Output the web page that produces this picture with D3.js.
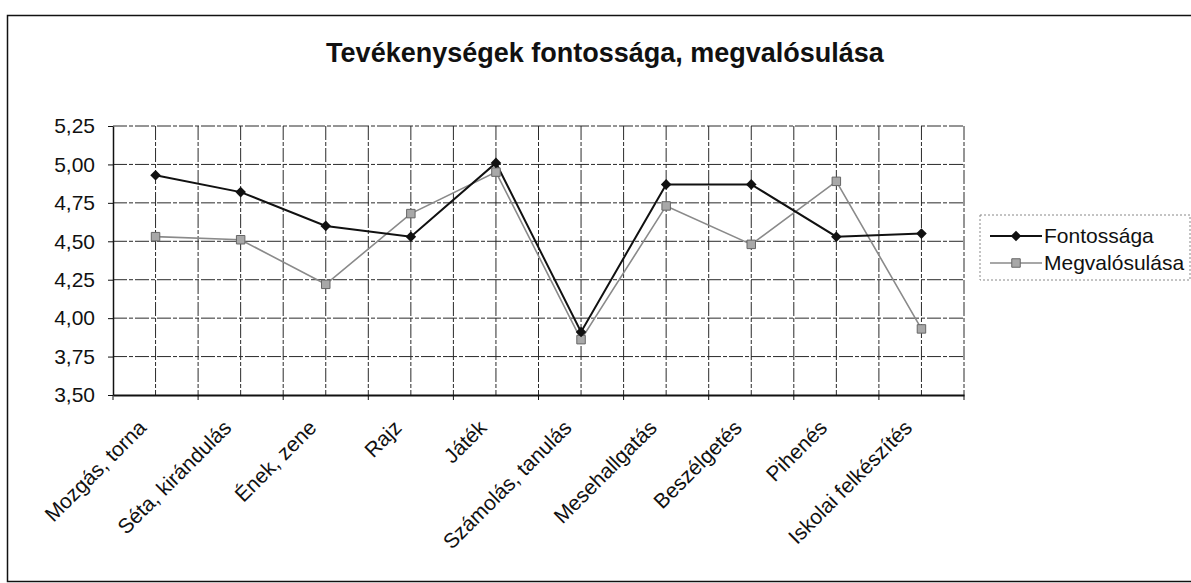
<!DOCTYPE html>
<html>
<head>
<meta charset="utf-8">
<script src="https://cdn.jsdelivr.net/npm/d3@7"></script>
<style>
  body { margin: 0; background: #fff; }
  svg { display: block; font-family: Arial, "Liberation Sans", sans-serif; }
</style>
</head>
<body>
<div class="chart"></div>
<script>
// data
const categories = ["Mozgás, torna", "Séta, kirándulás", "Ének, zene", "Rajz", "Játék",
  "Számolás, tanulás", "Mesehallgatás", "Beszélgetés", "Pihenés", "Iskolai felkészítés"];
const fontossaga = [4.93, 4.82, 4.60, 4.53, 5.01, 3.91, 4.87, 4.87, 4.53, 4.55];
const megvalosulasa = [4.53, 4.51, 4.22, 4.68, 4.95, 3.86, 4.73, 4.48, 4.89, 3.93];
const yTicks = [3.50, 3.75, 4.00, 4.25, 4.50, 4.75, 5.00, 5.25];
const seriesNames = ["Fontossága", "Megvalósulása"];
const title = "Tevékenységek fontossága, megvalósulása";

const W = 1191, H = 583;
const margin = ({top: 126, right: 227, bottom: 188, left: 113});
const width = W - margin.left - margin.right,
    height = H - margin.top - margin.bottom;

const svg = d3.select(".chart").append("svg")
    .attr("width", W)
    .attr("height", H);

// outer frame
svg.append("rect")
    .attr("x", 7.5).attr("y", 15.5)
    .attr("width", W).attr("height", 566)
    .attr("fill", "none")
    .attr("stroke", "#111")
    .attr("stroke-width", 1.5);

svg.append("text")
    .attr("x", 605).attr("y", 62)
    .attr("text-anchor", "middle")
    .attr("font-size", 27)
    .attr("font-weight", "bold")
    .attr("fill", "#111")
    .text(title);

const g = svg.append("g")
    .attr("transform", "translate(" + margin.left + "," + margin.top + ")");

const xScale = d3.scaleBand()
    .domain(categories)
    .range([0, width])
    .padding(0);
const bw = xScale.bandwidth();
const cx = d => xScale(d) + bw / 2;

const yScale = d3.scaleLinear()
    .domain([3.5, 5.25])
    .range([height, 0]);

// grid - horizontal
const gridStyle = sel => sel
    .attr("stroke", "#2a2a2a")
    .attr("stroke-width", 1)
    .attr("stroke-dasharray", "14,2,4,2");

g.append("g").selectAll("line")
    .data(yTicks.slice(1))
    .join("line")
    .attr("x1", 0).attr("x2", width)
    .attr("y1", d => yScale(d)).attr("y2", d => yScale(d))
    .call(gridStyle);

// grid - vertical, at category edges and centres
const vLines = [];
categories.forEach(c => { vLines.push(xScale(c)); vLines.push(cx(c)); });
vLines.push(width);
g.append("g").selectAll("line")
    .data(vLines.slice(1))
    .join("line")
    .attr("x1", d => d).attr("x2", d => d)
    .attr("y1", 0).attr("y2", height)
    .call(gridStyle);

// y axis
const yAxis = d3.axisLeft(yScale)
    .tickValues(yTicks)
    .tickSizeInner(5).tickSizeOuter(0)
    .tickPadding(13)
    .tickFormat(d => d3.format(".2f")(d).replace(".", ","));
g.append("g")
    .attr("class", "y-axis")
    .call(yAxis)
    .call(a => a.select(".domain").attr("stroke", "#111").attr("stroke-width", 1.5))
    .call(a => a.selectAll(".tick line").attr("stroke", "#111"))
    .call(a => a.selectAll(".tick text")
        .attr("font-size", 21).attr("fill", "#111").attr("font-family", null));

// x axis
const xAxis = d3.axisBottom(xScale).tickSize(0).tickSizeOuter(0);
g.append("g")
    .attr("class", "x-axis")
    .attr("transform", "translate(0," + height + ")")
    .call(xAxis)
    .call(a => a.select(".domain").attr("stroke", "#111").attr("stroke-width", 2))
    .call(a => a.selectAll(".tick text")
        .attr("font-size", 21).attr("fill", "#111").attr("font-family", null)
        .attr("text-anchor", "end")
        .attr("x", 0).attr("y", 0).attr("dy", 0)
        .attr("transform", "translate(-8,34) rotate(-45)"));

// boundary tick marks on x axis
g.append("g").selectAll("line")
    .data(categories.map(c => xScale(c)).concat([width]))
    .join("line")
    .attr("x1", d => d).attr("x2", d => d)
    .attr("y1", height).attr("y2", height + 5)
    .attr("stroke", "#111");

// lines
const line = d3.line()
    .x((d, i) => cx(categories[i]))
    .y(d => yScale(d));

g.append("path")
    .datum(megvalosulasa)
    .attr("fill", "none")
    .attr("stroke", "#8a8a8a")
    .attr("stroke-width", 1.6)
    .attr("d", line);

g.append("path")
    .datum(fontossaga)
    .attr("fill", "none")
    .attr("stroke", "#111")
    .attr("stroke-width", 2)
    .attr("d", line);

const diamond = d3.symbol(d3.symbolSquare, 56);
const square = d3.symbol(d3.symbolSquare, 72);

g.append("g").selectAll("path")
    .data(megvalosulasa)
    .join("path")
    .attr("transform", (d, i) => "translate(" + cx(categories[i]) + "," + yScale(d) + ")")
    .attr("d", square)
    .attr("fill", "#a8a8a8")
    .attr("stroke", "#666")
    .attr("stroke-width", 1);

g.append("g").selectAll("path")
    .data(fontossaga)
    .join("path")
    .attr("transform", (d, i) => "translate(" + cx(categories[i]) + "," + yScale(d) + ") rotate(45)")
    .attr("d", diamond)
    .attr("fill", "#111");

// legend
const legend = svg.append("g").attr("transform", "translate(980,215)");
legend.append("rect")
    .attr("width", 210).attr("height", 65)
    .attr("fill", "#fff")
    .attr("stroke", "#888")
    .attr("stroke-dasharray", "2,2");

const items = legend.selectAll(".item")
    .data(seriesNames)
    .join("g")
    .attr("class", "item")
    .attr("transform", (d, i) => "translate(10," + (21 + i * 27) + ")");
items.append("line")
    .attr("x1", 0).attr("x2", 52)
    .attr("stroke", (d, i) => i === 0 ? "#111" : "#8a8a8a")
    .attr("stroke-width", (d, i) => i === 0 ? 2 : 1.6);
items.append("path")
    .attr("transform", (d, i) => "translate(26,0)" + (i === 0 ? " rotate(45)" : ""))
    .attr("d", (d, i) => i === 0 ? diamond() : square())
    .attr("fill", (d, i) => i === 0 ? "#111" : "#a8a8a8")
    .attr("stroke", (d, i) => i === 0 ? null : "#666");
items.append("text")
    .attr("x", 54).attr("dy", "0.35em")
    .attr("font-size", 21)
    .attr("fill", "#111")
    .text(d => d);
</script>
</body>
</html>
